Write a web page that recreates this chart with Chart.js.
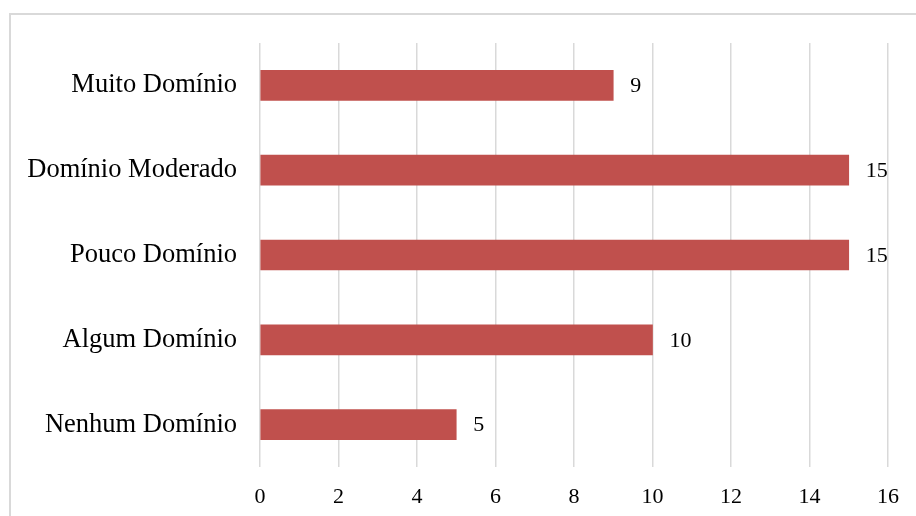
<!DOCTYPE html>
<html>
<head>
<meta charset="utf-8">
<script src="https://cdn.jsdelivr.net/npm/chart.js@4/dist/chart.umd.min.js"></script>
<style>
  html, body { margin: 0; padding: 0; background: #fff; }
  #wrap { position: relative; width: 916px; height: 516px; overflow: hidden; }
  #frame { position: absolute; left: 9px; top: 13px; width: 940px; height: 540px; border: 2px solid #d9d9d9; box-sizing: border-box; }
  #chart { position: absolute; left: 0; top: 0; }
</style>
</head>
<body>
<div id="wrap">
  <div id="frame"></div>
  <canvas id="chart" width="916" height="516"></canvas>
</div>
<script>
// Categories (top to bottom) and values
const categories = ['Muito Domínio', 'Domínio Moderado', 'Pouco Domínio', 'Algum Domínio', 'Nenhum Domínio'];
const counts = [9, 15, 15, 10, 5];
const xTicks = [0, 2, 4, 6, 8, 10, 12, 14, 16];

const serif = '"Liberation Serif", "Times New Roman", serif';

// Draw value labels at the end of each bar
const valueLabels = {
  id: 'valueLabels',
  afterDatasetsDraw(chart) {
    const ctx = chart.ctx;
    const meta = chart.getDatasetMeta(0);
    ctx.save();
    ctx.font = '22px ' + serif;
    ctx.fillStyle = '#000';
    ctx.textAlign = 'left';
    ctx.textBaseline = 'middle';
    meta.data.forEach((bar, i) => {
      ctx.fillText(String(counts[i]), bar.x + 17, bar.y + 1);
    });
    ctx.restore();
  }
};

const ctx = document.getElementById('chart').getContext('2d');
new Chart(ctx, {
  type: 'bar',
  data: {
    labels: categories,
    datasets: [{
      data: counts,
      backgroundColor: '#C0504D',
      borderWidth: 0,
      barThickness: 30
    }]
  },
  options: {
    indexAxis: 'y',
    responsive: false,
    animation: false,
    layout: { padding: { left: 0, top: 43, right: 28, bottom: 0 } },
    plugins: {
      legend: { display: false },
      tooltip: { enabled: false }
    },
    scales: {
      x: {
        min: 0,
        max: 16,
        afterBuildTicks: (scale) => { scale.ticks = xTicks.map(v => ({ value: v })); },
        afterFit: (scale) => { scale.height = 49; },
        grid: { color: '#d9d9d9', lineWidth: 1.5, drawTicks: false },
        border: { display: false },
        ticks: { color: '#000', font: { family: serif, size: 22 }, padding: 17 }
      },
      y: {
        afterFit: (scale) => { scale.width = 260; },
        grid: { display: false, drawTicks: false },
        border: { display: false },
        ticks: { color: '#000', font: { family: serif, size: 26.5 }, padding: 23 }
      }
    }
  },
  plugins: [valueLabels]
});
</script>
</body>
</html>
